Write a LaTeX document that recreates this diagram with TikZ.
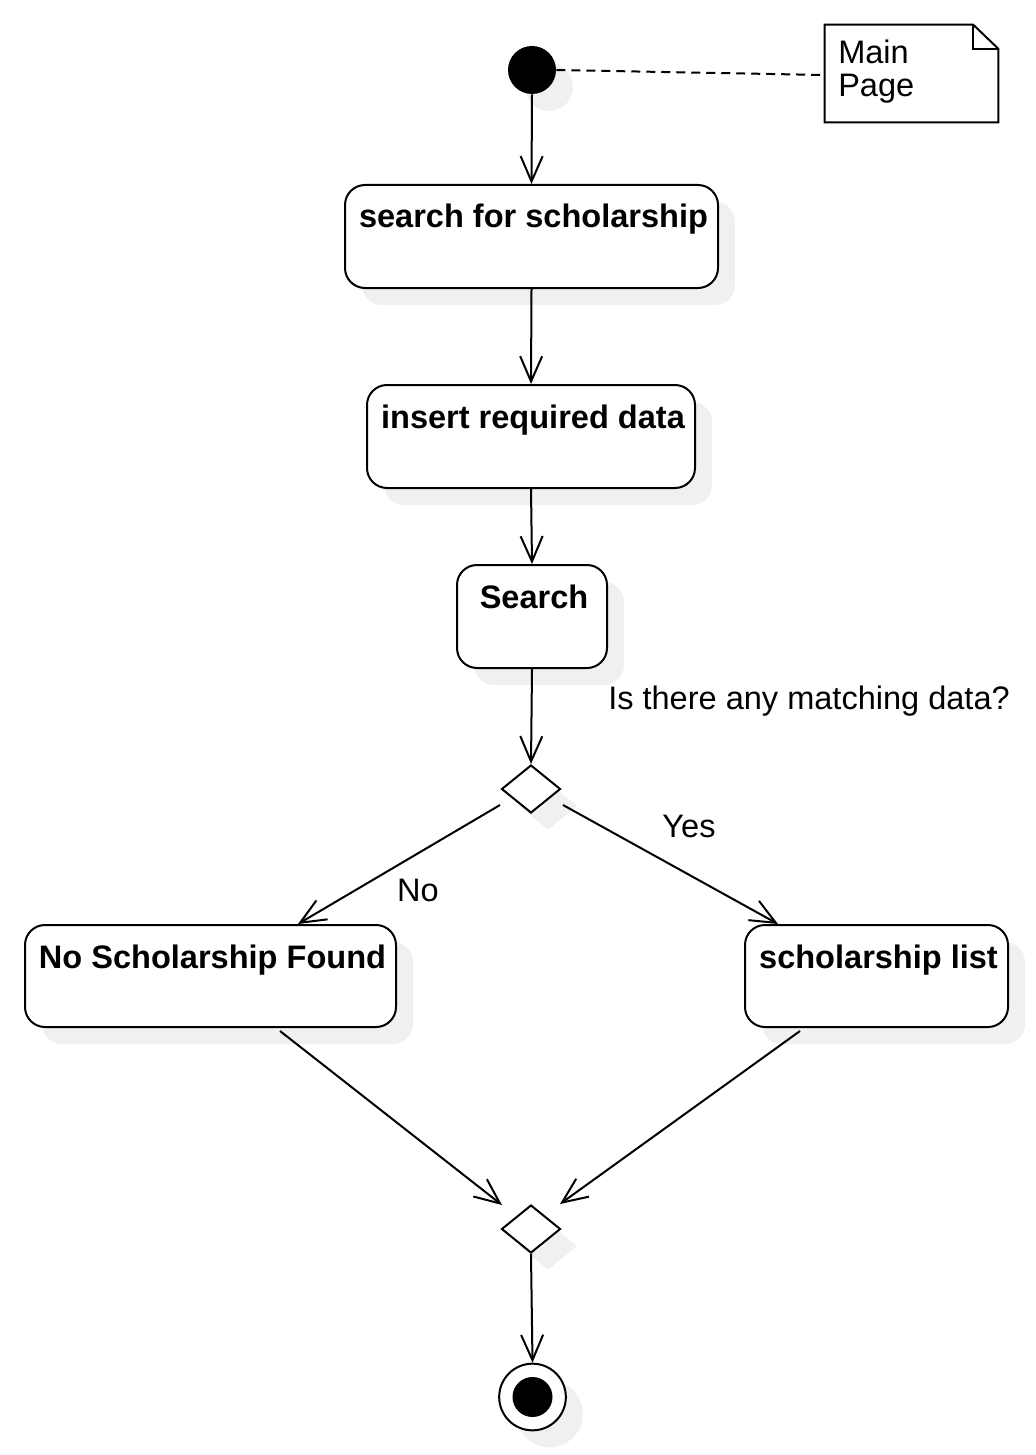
\documentclass[tikz,border=0pt]{standalone}
\usepackage{fontspec}
\setmainfont{Liberation Sans}
\usetikzlibrary{arrows.meta,shapes.geometric,shadows,calc}
\definecolor{shadowgray}{RGB}{240,240,240}
\tikzset{
  px/.style={x=0.75pt,y=-0.75pt},
  shd/.style={drop shadow={shadow xshift=12.75pt,shadow yshift=-12.75pt,fill=shadowgray,opacity=1}},
  actbox/.style={draw,line width=1.5pt,rounded corners=15pt,fill=white,inner sep=0pt,shd},
  acttext/.style={font=\bfseries\fontsize{24.4}{28}\selectfont,anchor=base,inner sep=0pt},
  plain/.style={font=\fontsize{24.4}{28}\selectfont,inner sep=0pt},
  decision/.style={draw,diamond,line width=1.5pt,fill=white,inner sep=0pt,minimum width=44.25pt,minimum height=36pt,shd},
  arr/.style={line width=1.5pt,-{Straight Barb[length=19pt,width=16.5pt,line width=1.5pt]}},
}
\begin{document}
\begin{tikzpicture}[px]
\useasboundingbox (0,0) rectangle (1035,1455);
% start
\node[circle,fill=black,inner sep=0pt,minimum size=36pt,shd] (start) at (532,70) {};
% note
\node[inner sep=0pt,minimum width=173*0.75pt,minimum height=97*0.75pt] (note) at (911.5,73.5) {};
\draw[line width=1.5pt,line join=miter] (note.north west) -- ($(note.north east)+(-25,0)$) -- ($(note.north east)+(0,24)$) -- (note.south east) -- (note.south west) -- cycle;
\draw[line width=1.5pt] ($(note.north east)+(-25,0)$) -- ($(note.north east)+(-25,24)$) -- ($(note.north east)+(0,24)$);
\node[plain,anchor=base west,align=left,font=\fontsize{24.4}{24.75}\selectfont] (notetext) at (838,97) {Main\\Page};
% activities
\node[actbox,minimum width=373*0.75pt,minimum height=103*0.75pt] (b1) at (531.5,236.5) {};
\node[acttext] (t1) at ($(b1.north)+(2,44)$) {search for scholarship};
\node[actbox,minimum width=328*0.75pt,minimum height=103*0.75pt] (b2) at (531,436.5) {};
\node[acttext] (t2) at ($(b2.north)+(2,44)$) {insert required data};
\node[actbox,minimum width=150*0.75pt,minimum height=103*0.75pt] (b3) at (532,616.5) {};
\node[acttext] (t3) at ($(b3.north)+(2,44)$) {Search};
\node[decision] (d1) at (531,789) {};
\node[actbox,minimum width=371*0.75pt,minimum height=102*0.75pt] (nobox) at (210.5,976) {};
\node[acttext] (tno) at ($(nobox.north)+(2,44)$) {No Scholarship Found};
\node[actbox,minimum width=263*0.75pt,minimum height=102*0.75pt] (list) at (876.5,976) {};
\node[acttext] (tlist) at ($(list.north)+(2,44)$) {scholarship list};
\node[decision] (d2) at (531,1229) {};
% final
\node[circle,draw,line width=1.5pt,fill=white,inner sep=0pt,minimum size=50pt,shd] (final) at (532.5,1397) {};
\node[circle,fill=black,inner sep=0pt,minimum size=30pt] (finalin) at (final) {};
% labels
\node[plain,anchor=base west] (q) at (608,709) {Is there any matching data?};
\node[plain,anchor=base] (yes) at (689,837) {Yes};
\node[plain,anchor=base] (no) at (418,901) {No};
% connectors
\draw[line width=1.5pt,dash pattern=on 6.75pt off 4.5pt] (start.east) -- ($(note.west)+(0,1.5)$);
\draw[arr] (start.south) -- (b1.north);
\draw[arr] (b1.south) -- (b2.north);
\draw[arr] (b2.south) -- (b3.north);
\draw[arr] (b3.south) -- (d1.north);
\draw[arr] ($(d1)+(-31,16)$) -- ($(nobox.north)+(87.5,0)$);
\draw[arr] ($(d1)+(32,16)$) -- ($(list.north)+(-98.5,0)$);
\draw[arr] ($(nobox.south)+(69.5,3)$) -- ($(d2)+(-29,-24)$);
\draw[arr] ($(list.south)+(-76.5,3)$) -- ($(d2)+(29,-25)$);
\draw[arr] (d2.south) -- (final.north);
\end{tikzpicture}
\end{document}
